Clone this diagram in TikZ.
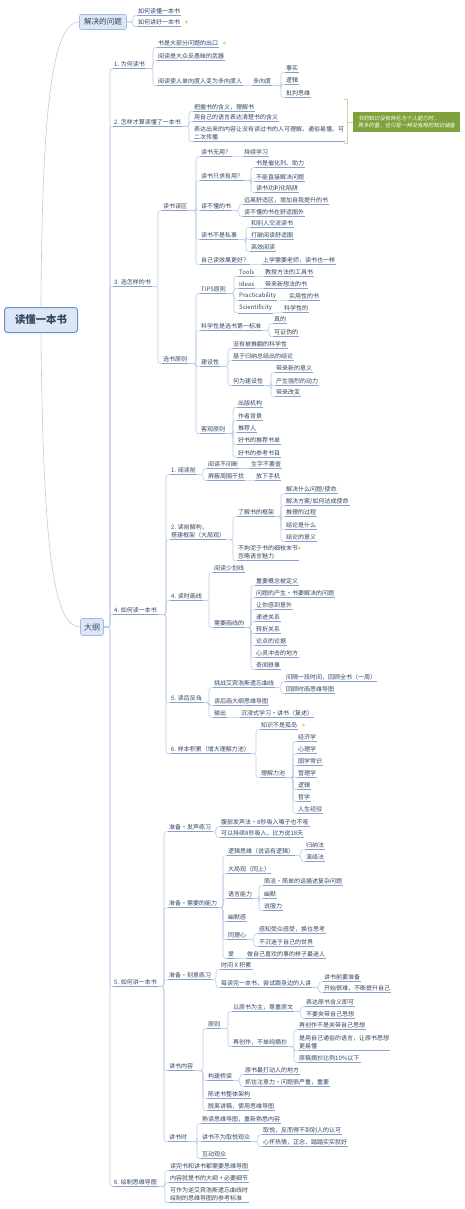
\documentclass[tikz,border=0pt]{standalone}
\usepackage{fontspec}
\setmainfont{Noto Sans CJK SC}
\newfontfamily\notefont[FakeSlant=0.2]{Noto Sans CJK SC}
\definecolor{ink}{HTML}{34465E}
\definecolor{twigc}{HTML}{BCCBE8}
\definecolor{underc}{HTML}{86A0D3}
\definecolor{boxfill}{HTML}{DDE6F4}
\definecolor{boxline}{HTML}{A6BADF}
\definecolor{hubline}{HTML}{6C8ED0}
\definecolor{leafgreen}{HTML}{7FA23C}
\definecolor{bulbc}{HTML}{F5CF63}
\tikzset{
  hub/.style={draw=hubline,fill=boxfill,rounded corners=3pt,line width=1pt,text=ink,
    font=\fontsize{10.4}{12}\selectfont\bfseries,minimum width=73pt,minimum height=25pt,inner sep=0pt},
  branch/.style={draw=boxline,fill=boxfill,rounded corners=2pt,line width=.6pt,text=ink,inner sep=0pt},
  topic/.style={anchor=west,align=left,inner xsep=1pt,inner ysep=1.6pt,text=ink,
    font=\fontsize{6}{8.5}\selectfont,
    append after command={(\tikzlastnode.south west) edge[uline] (\tikzlastnode.south east)}},
  uline/.style={draw=underc,line width=.85pt},
  twig/.style={draw=twigc,line width=.6pt,rounded corners=2.5pt},
  bulb/.style={circle,fill=bulbc,inner sep=0pt,minimum size=3.2pt},
  note/.style={fill=leafgreen,text=white,font=\fontsize{5.4}{7.4}\selectfont,align=left,
    minimum width=107pt,minimum height=20pt,inner sep=2pt},
  brace/.style={draw=leafgreen!45,line width=.6pt},
}

\begin{document}
\begin{tikzpicture}[x=1pt,y=-1pt]
  \useasboundingbox (0,0) rectangle (465,1209);
  \fill[white] (0,0) rectangle (465,1209);

  % root and its two branches
  \node[hub] (hub) at (41,320) {读懂一本书};
  \node[branch,minimum width=47pt,minimum height=15pt,font=\fontsize{7.6}{9}\selectfont] (q) at (103,22) {解决的问题};
  \node[branch,minimum width=23pt,minimum height=17pt,font=\fontsize{8}{9}\selectfont] (o) at (92,627) {大纲};
  \draw[twig] (hub.north) .. controls (42,110) and (52,22) .. (q.west);
  \draw[twig] (hub.south) .. controls (43,560) and (55,627) .. (o.west);

  \foreach \n/\y/\t in {q1/11/如何读懂一本书,q2/22/如何讲好一本书}
   {\node[topic] (\n) at (137,\y) {\t};
    \draw[twig] (q.east) -| ([xshift=-4pt]\n.south west) -- (\n.south west);}
  \node[bulb] (q2s) at ([xshift=5pt]q2.east) {};

  % Outline: first level
  \foreach \n/\y/\t in {b1/64/1. 为何读书,b2/122/2. 怎样才算读懂了一本书,b3/282/3. 选怎样的书,
      b4/610/4. 如何读一本书,b5/982/5. 如何讲一本书,b6/1182/6. 绘制思维导图}
   {\node[topic] (\n) at (113,\y) {\t};
    \draw[twig] (o.east) -| ([xshift=-3pt]\n.south west) -- (\n.south west);}

  % 1. why read
  \foreach \n/\y/\t in {b1a/43/书是大部分问题的出口,b1b/56/阅读是大众反愚昧的武器,b1c/81/阅读使人单向度人变为多向度人}
   {\node[topic] (\n) at (157,\y) {\t};
    \draw[twig] (b1.south east) -| ([xshift=-4pt]\n.south west) -- (\n.south west);}
  \node[bulb] (b1s) at ([xshift=5pt]b1a.east) {};
  \node[topic] (b1d) at (252,81) {多向度};
  \draw[twig] (b1c.south east) -- (b1d.south west);
  \foreach \n/\y/\t in {b1e/68/事实,b1f/80/逻辑,b1g/93/批判思维}
   {\node[topic] (\n) at (285,\y) {\t};
    \draw[twig] (b1d.south east) -| ([xshift=-4pt]\n.south west) -- (\n.south west);}

  % 2. what counts as understood
  \foreach \n/\y/\t in {b2a/107/把握书的含义，理解书,b2b/117/用自己的语言表达清楚书的含义,
      b2c/133/{表达出来的内容让没有读过书的人可理解、通俗易懂、可\\二次传播}}
   {\node[topic] (\n) at (193,\y) {\t};
    \draw[twig] (b2.south east) -| ([xshift=-4pt]\n.south west) -- (\n.south west);}
  \node[note] (tip) at (406.5,122)
    {\notefont 书的知识没有转化为个人能力时，\\\notefont 再多的量，也只是一种没有用的知识储备};
  \draw[brace] (344,99) -- (347,99) -- (347,143) -- (344,143);
  \draw[brace] (347,122) -- (tip.west);

  % 3. which books
  \foreach \n/\y/\t in {c/206/读书误区,d/359/选书原则}
   {\node[topic] (\n) at (162,\y) {\t};
    \draw[twig] (b3.south east) -| ([xshift=-4pt]\n.south west) -- (\n.south west);}
  \foreach \n/\y/\t in {c1/152/读书无用？,c2/176/读书只求有用？,c3/206/读不懂的书,c4/235/读书不是私事,c5/260/自己读效果更好？}
   {\node[topic] (\n) at (200,\y) {\t};
    \draw[twig] (c.south east) -| ([xshift=-4pt]\n.south west) -- (\n.south west);}
  \node[topic] (c1a) at (243,152) {持续学习};
  \draw[twig] (c1.south east) -- (c1a.south west);
  \foreach \n/\y/\t in {c2a/163/书是催化剂、助力,c2b/177/不能直接解决问题,c2c/188/读书功利化陷阱}
   {\node[topic] (\n) at (255,\y) {\t};
    \draw[twig] (c2.south east) -| ([xshift=-4pt]\n.south west) -- (\n.south west);}
  \foreach \n/\y/\t in {c3a/200/远离舒适区，增加自我提升的书,c3b/212/读不懂的书在舒适圈外}
   {\node[topic] (\n) at (243,\y) {\t};
    \draw[twig] (c3.south east) -| ([xshift=-4pt]\n.south west) -- (\n.south west);}
  \foreach \n/\y/\t in {c4a/223/和别人交流读书,c4b/235/打破阅读舒适圈,c4c/247/高效阅读}
   {\node[topic] (\n) at (250,\y) {\t};
    \draw[twig] (c4.south east) -| ([xshift=-4pt]\n.south west) -- (\n.south west);}
  \node[topic] (c5a) at (262,260) {上学需要老师，读书也一样};
  \draw[twig] (c5.south east) -- (c5a.south west);

  \foreach \n/\y/\t in {d1/289/TIPS原则,d2/326/科学性是选书第一标准,d3/362/建设性,d4/429/客观原则}
   {\node[topic] (\n) at (200,\y) {\t};
    \draw[twig] (d.south east) -| ([xshift=-4pt]\n.south west) -- (\n.south west);}
  \foreach \n/\y/\t in {d1a/272/Tools,d1b/284/Ideas,d1c/296/Practicability,d1d/308/Scientificity}
   {\node[topic] (\n) at (238,\y) {\t};
    \draw[twig] (d1.south east) -| ([xshift=-4pt]\n.south west) -- (\n.south west);}
  \foreach \p/\n/\x/\y/\t in {d1a/d1e/264/272/教授方法的工具书,d1b/d1f/264/284/带来新想法的书,
      d1c/d1g/288/296/实用性的书,d1d/d1h/283/308/科学性的}
   {\node[topic] (\n) at (\x,\y) {\t};
    \draw[twig] (\p.south east) -- (\n.south west);}
  \foreach \n/\y/\t in {d2a/319/真的,d2b/332/可证伪的}
   {\node[topic] (\n) at (273,\y) {\t};
    \draw[twig] (d2.south east) -| ([xshift=-4pt]\n.south west) -- (\n.south west);}
  \foreach \n/\y/\t in {d3a/344/没有被推翻的科学性,d3b/356/基于归纳总结出的结论,d3c/381/何为建设性}
   {\node[topic] (\n) at (232,\y) {\t};
    \draw[twig] (d3.south east) -| ([xshift=-4pt]\n.south west) -- (\n.south west);}
  \foreach \n/\y/\t in {d3d/368/带来新的意义,d3e/381/产生强烈的动力,d3f/392/带来改变}
   {\node[topic] (\n) at (275,\y) {\t};
    \draw[twig] (d3c.south east) -| ([xshift=-4pt]\n.south west) -- (\n.south west);}
  \foreach \n/\y/\t in {d4a/403/出版机构,d4b/416/作者背景,d4c/428/推荐人,d4d/440/好书的推荐书单,d4e/453/好书的参考书目}
   {\node[topic] (\n) at (237,\y) {\t};
    \draw[twig] (d4.south east) -| ([xshift=-4pt]\n.south west) -- (\n.south west);}

  % 4. how to read
  \foreach \n/\y/\t in {e1/470/1. 阅读前,e2/531/{2. 读前解构，\\搭建框架（大局观）},e3/596/4. 读时画线,
      e4/698/5. 读后反刍,e5/749/6. 样本积累（增大理解力池）}
   {\node[topic] (\n) at (170,\y) {\t};
    \draw[twig] (b4.south east) -| ([xshift=-4pt]\n.south west) -- (\n.south west);}
  \foreach \n/\y/\t in {e1a/464/阅读不间断,e1b/476/屏蔽周围干扰}
   {\node[topic] (\n) at (207,\y) {\t};
    \draw[twig] (e1.south east) -| ([xshift=-4pt]\n.south west) -- (\n.south west);}
  \node[topic] (e1c) at (250,464) {生字不要查};
  \draw[twig] (e1a.south east) -- (e1c.south west);
  \node[topic] (e1d) at (255,476) {放下手机};
  \draw[twig] (e1b.south east) -- (e1d.south west);
  \foreach \n/\y/\t in {f1/512/了解书的框架,f2/552/{不拘泥于书的细枝末节\\忽略语言魅力}}
   {\node[topic] (\n) at (237,\y) {\t};
    \draw[twig] (e2.south east) -| ([xshift=-4pt]\n.south west) -- (\n.south west);}
  \node[bulb] (f2s) at (299,548) {};
  \foreach \n/\y/\t in {f1a/489/{解决什么问题/使命},f1b/501/{解决方案/如何达成使命},f1c/512/推理的过程,
      f1d/525/结论是什么,f1e/537/结论的意义}
   {\node[topic] (\n) at (285,\y) {\t};
    \draw[twig] (f1.south east) -| ([xshift=-4pt]\n.south west) -- (\n.south west);}
  \foreach \n/\y/\t in {e3a/568/阅读少划线,e3b/623/需要画线的}
   {\node[topic] (\n) at (213,\y) {\t};
    \draw[twig] (e3.south east) -| ([xshift=-4pt]\n.south west) -- (\n.south west);}
  \foreach \n/\y/\t in {e3c/581/重要概念被定义,e3d/593/问题的产生·书要解决的问题,e3e/605/让你感到意外,
      e3f/617/递进关系,e3g/629/转折关系,e3h/641/论点的论据,e3i/653/心灵冲击的地方,e3j/665/奇闻轶事}
   {\node[topic] (\n) at (255,\y) {\t};
    \draw[twig] (e3b.south east) -| ([xshift=-4pt]\n.south west) -- (\n.south west);}
  \foreach \n/\y/\t in {e4a/683/挑战艾宾浩斯遗忘曲线,e4b/701/读后画大纲思维导图,e4c/713/输出}
   {\node[topic] (\n) at (213,\y) {\t};
    \draw[twig] (e4.south east) -| ([xshift=-4pt]\n.south west) -- (\n.south west);}
  \foreach \n/\y/\t in {e4d/677/间隔一段时间，回顾全书（一周）,e4e/689/回顾时画思维导图}
   {\node[topic] (\n) at (285,\y) {\t};
    \draw[twig] (e4a.south east) -| ([xshift=-4pt]\n.south west) -- (\n.south west);}
  \node[topic] (e4f) at (240,713) {沉浸式学习·讲书（复述）};
  \draw[twig] (e4c.south east) -- (e4f.south west);
  \foreach \n/\y/\t in {e5a/725/知识不是孤岛,e5b/773/理解力池}
   {\node[topic] (\n) at (260,\y) {\t};
    \draw[twig] (e5.south east) -| ([xshift=-4pt]\n.south west) -- (\n.south west);}
  \node[bulb] (e5s) at ([xshift=5pt]e5a.east) {};
  \foreach \n/\y/\t in {e5c/737/经济学,e5d/749/心理学,e5e/761/国学常识,e5f/773/管理学,
      e5g/785/逻辑,e5h/797/哲学,e5i/809/人生经验}
   {\node[topic] (\n) at (297,\y) {\t};
    \draw[twig] (e5b.south east) -| ([xshift=-4pt]\n.south west) -- (\n.south west);}

  % 5. how to tell a book
  \foreach \n/\y/\t in {g1/827/准备·发声练习,g2/903/准备·需要的能力,g3/975/准备·刻意练习,
      g4/1066/讲书内容,g5/1137/讲书时}
   {\node[topic] (\n) at (168,\y) {\t};
    \draw[twig] (b5.south east) -| ([xshift=-4pt]\n.south west) -- (\n.south west);}
  \foreach \n/\y/\t in {g1a/822/腹部发声法·8秒吸入嗓子也不哑,g1b/833/可以持续8秒吸入，比方说18天}
   {\node[topic] (\n) at (220,\y) {\t};
    \draw[twig] (g1.south east) -| ([xshift=-4pt]\n.south west) -- (\n.south west);}
  \foreach \n/\y/\t in {h1/851/逻辑思维（说话有逻辑）,h2/869/大局观（同上）,h3/894/语言能力,
      h4/917/幽默感,h5/935/同理心,h6/954/爱}
   {\node[topic] (\n) at (227,\y) {\t};
    \draw[twig] (g2.south east) -| ([xshift=-4pt]\n.south west) -- (\n.south west);}
  \foreach \n/\y/\t in {h1a/845/归纳法,h1b/857/演绎法}
   {\node[topic] (\n) at (305,\y) {\t};
    \draw[twig] (h1.south east) -| ([xshift=-4pt]\n.south west) -- (\n.south west);}
  \foreach \n/\y/\t in {h3a/881/简洁·简单的话描述复杂问题,h3b/894/幽默,h3c/906/说服力}
   {\node[topic] (\n) at (263,\y) {\t};
    \draw[twig] (h3.south east) -| ([xshift=-4pt]\n.south west) -- (\n.south west);}
  \foreach \n/\y/\t in {h5a/929/感知受众感受，换位思考,h5b/942/不沉迷于自己的世界}
   {\node[topic] (\n) at (258,\y) {\t};
    \draw[twig] (h5.south east) -| ([xshift=-4pt]\n.south west) -- (\n.south west);}
  \node[topic] (h6a) at (246,954) {做自己喜欢的事的样子最迷人};
  \draw[twig] (h6.south east) -- (h6a.south west);
  \foreach \n/\y/\t in {i1/965/时间 X 积累,i2/983/每读完一本书，尝试跟身边的人讲}
   {\node[topic] (\n) at (220,\y) {\t};
    \draw[twig] (g3.south east) -| ([xshift=-4pt]\n.south west) -- (\n.south west);}
  \foreach \n/\y/\t in {i2a/977/讲书前要准备,i2b/988/开始很难，不断提升自己}
   {\node[topic] (\n) at (323,\y) {\t};
    \draw[twig] (i2.south east) -| ([xshift=-4pt]\n.south west) -- (\n.south west);}
  \foreach \n/\y/\t in {j1/1024/原则,j2/1076/构建桥梁,j3/1094/陈述书整体架构,j4/1106/脱离讲稿，使用思维导图}
   {\node[topic] (\n) at (207,\y) {\t};
    \draw[twig] (g4.south east) -| ([xshift=-4pt]\n.south west) -- (\n.south west);}
  \foreach \n/\y/\t in {k1/1007/以原书为主，尊重原文,k2/1042/再创作，不单纯摘抄}
   {\node[topic] (\n) at (232,\y) {\t};
    \draw[twig] (j1.south east) -| ([xshift=-4pt]\n.south west) -- (\n.south west);}
  \foreach \n/\y/\t in {k1a/1002/表达原书含义即可,k1b/1014/不要夹带自己思想}
   {\node[topic] (\n) at (305,\y) {\t};
    \draw[twig] (k1.south east) -| ([xshift=-4pt]\n.south west) -- (\n.south west);}
  \foreach \n/\y/\t in {k2a/1025/再创作不是夹带自己思想,k2b/1042/{是用自己通俗的语言，让原书思想\\更易懂},
      k2c/1058/原稿摘抄比例10\%以下}
   {\node[topic] (\n) at (298,\y) {\t};
    \draw[twig] (k2.south east) -| ([xshift=-4pt]\n.south west) -- (\n.south west);}
  \foreach \n/\y/\t in {j2a/1070/原书最打动人的地方,j2b/1082/抓住注意力·问题很严重，重要}
   {\node[topic] (\n) at (244,\y) {\t};
    \draw[twig] (j2.south east) -| ([xshift=-4pt]\n.south west) -- (\n.south west);}
  \foreach \n/\y/\t in {m1/1119/熟读思维导图，重新熟悉内容,m2/1137/讲书不为取悦观众,m3/1154/互动观众}
   {\node[topic] (\n) at (201,\y) {\t};
    \draw[twig] (g5.south east) -| ([xshift=-4pt]\n.south west) -- (\n.south west);}
  \foreach \n/\y/\t in {m2a/1130/取悦，反而得不到别人的认可,m2b/1142/心怀热情，正念，踏踏实实就好}
   {\node[topic] (\n) at (262,\y) {\t};
    \draw[twig] (m2.south east) -| ([xshift=-4pt]\n.south west) -- (\n.south west);}

  % 6. mind map
  \foreach \n/\y/\t in {b6a/1166/读完书和讲书都需要思维导图,b6b/1178/内容就是书的大纲 + 必要细节,
      b6c/1194/{可作为逆艾宾浩斯遗忘曲线时\\绘制的思维导图的参考标准}}
   {\node[topic] (\n) at (169,\y) {\t};
    \draw[twig] (b6.south east) -| ([xshift=-4pt]\n.south west) -- (\n.south west);}
\end{tikzpicture}
\end{document}
